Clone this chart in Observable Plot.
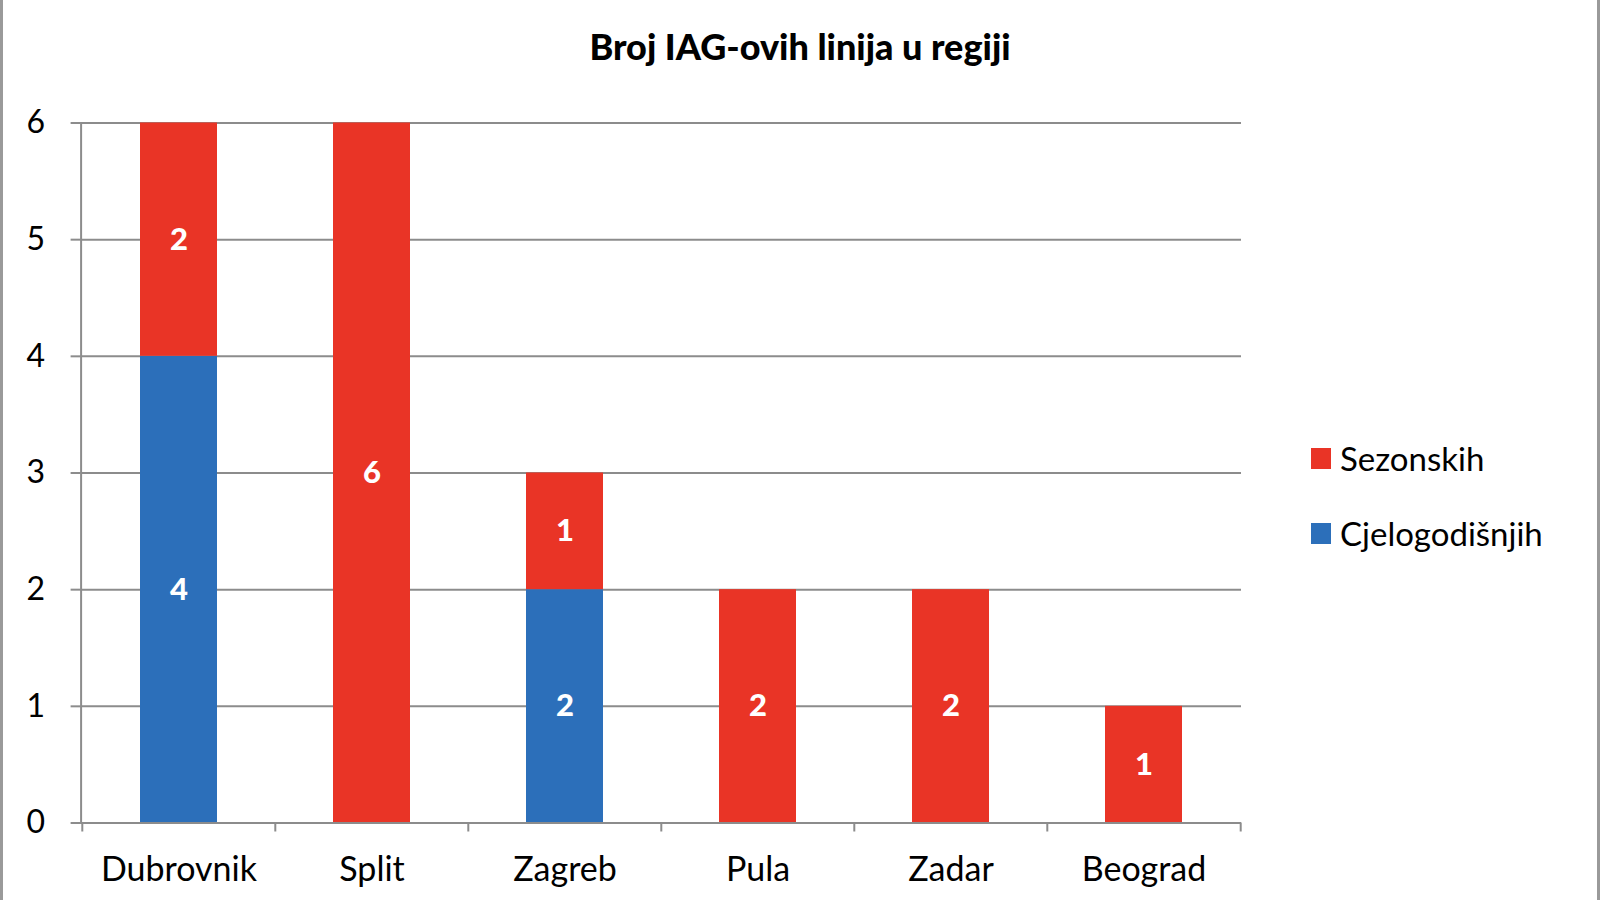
<!DOCTYPE html>
<html>
<head>
<meta charset="utf-8">
<script src="https://cdn.jsdelivr.net/npm/d3@7"></script>
<script src="https://cdn.jsdelivr.net/npm/@observablehq/plot@0.6"></script>
<style>
  html, body { margin: 0; padding: 0; background: #fff; }
  #wrap { position: relative; width: 1600px; height: 900px; overflow: hidden; font-family: Lato, "Open Sans", sans-serif; }
  .edge { position: absolute; top: 0; width: 3px; height: 900px; background: #9a9a9a; }
  #title { position: absolute; left: 0; top: 0; width: 1600px; height: 92px; text-align: center;
           line-height: 92px; font-size: 36px; font-weight: 900; color: #000; }
  #chart { position: absolute; left: 0; top: 92px; }
  #legend { position: absolute; left: 1311px; top: 0; font-size: 33px; color: #000; }
  .item { position: absolute; left: 0; display: flex; align-items: center; white-space: nowrap; }
  .sw { width: 20px; height: 21px; margin-right: 9px; }
</style>
</head>
<body>
<div id="wrap">
  <div class="edge" style="left:0"></div>
  <div class="edge" style="left:1597px"></div>
  <div id="title"></div>
  <div id="chart"></div>
  <div id="legend"></div>
</div>
<script>
const title = "Broj IAG-ovih linija u regiji";
const categories = ["Dubrovnik", "Split", "Zagreb", "Pula", "Zadar", "Beograd"];
const seriesNames = ["Sezonskih", "Cjelogodišnjih"];
const seriesColors = ["#e93426", "#2c6fba"];
const sezonskih = [2, 6, 1, 2, 2, 1];
const cjelogodisnjih = [4, 0, 2, 0, 0, 0];
const yTicks = [0, 1, 2, 3, 4, 5, 6];

// table: bottom series (Cjelogodišnjih) first, then Sezonskih stacked above
const rows = [];
categories.forEach((c, i) => rows.push({grad: c, serija: seriesNames[1], v: cjelogodisnjih[i]}));
categories.forEach((c, i) => rows.push({grad: c, serija: seriesNames[0], v: sezonskih[i]}));
const shown = rows.filter(d => d.v > 0);

const W = 1600, H = 808;
const mL = 80.6, mR = 359, mT = 30.5, mB = 77.5;
const step = (W - mL - mR) / categories.length;
const gray = "#8c8c8c";

document.getElementById("title").textContent = title;

const chart = Plot.plot({
  width: W, height: H,
  marginLeft: mL, marginRight: mR, marginTop: mT, marginBottom: mB,
  style: {fontFamily: "Lato, 'Open Sans', sans-serif", background: "transparent", overflow: "visible"},
  x: {domain: categories, paddingInner: 0.6, paddingOuter: 0.3, label: null},
  y: {domain: [0, 6], label: null},
  color: {domain: seriesNames, range: seriesColors},
  marks: [
    Plot.gridY(yTicks.slice(1), {stroke: gray, strokeOpacity: 1, strokeWidth: 2}),
    Plot.barY(shown, {x: "grad", y: "v", fill: "serija"}),
    Plot.text(shown, Plot.stackY({x: "grad", y: "v", z: "serija", text: d => String(d.v),
      fill: "white", fontSize: 31, fontWeight: 900})),
    Plot.ruleY([0], {stroke: gray, strokeWidth: 2}),
    Plot.frame({anchor: "left", stroke: gray, strokeWidth: 2}),
    Plot.axisY({ticks: yTicks, tickSize: 10, tickPadding: 26, fontSize: 32, stroke: gray, strokeWidth: 2,
      color: "#000", label: null, tickFormat: d => String(d)}),
    Plot.axisX({tickSize: 0, tickPadding: 34, fontSize: 34, color: "#000", label: null}),
    Plot.axisX({ticks: categories, tickSize: 9, dx: -step / 2, text: null, stroke: gray, strokeWidth: 2, label: null}),
    Plot.axisX({ticks: categories.slice(-1), tickSize: 9, dx: step / 2, text: null, stroke: gray, strokeWidth: 2, label: null})
  ]
});
document.getElementById("chart").appendChild(chart);

const legend = document.getElementById("legend");
const legendY = [458, 533];
seriesNames.forEach((name, i) => {
  const it = document.createElement("div");
  it.className = "item";
  it.style.top = (legendY[i] - 22) + "px";
  it.style.height = "44px";
  const sw = document.createElement("span");
  sw.className = "sw";
  sw.style.background = seriesColors[i];
  const tx = document.createElement("span");
  tx.textContent = name;
  it.appendChild(sw);
  it.appendChild(tx);
  legend.appendChild(it);
});
</script>
</body>
</html>
